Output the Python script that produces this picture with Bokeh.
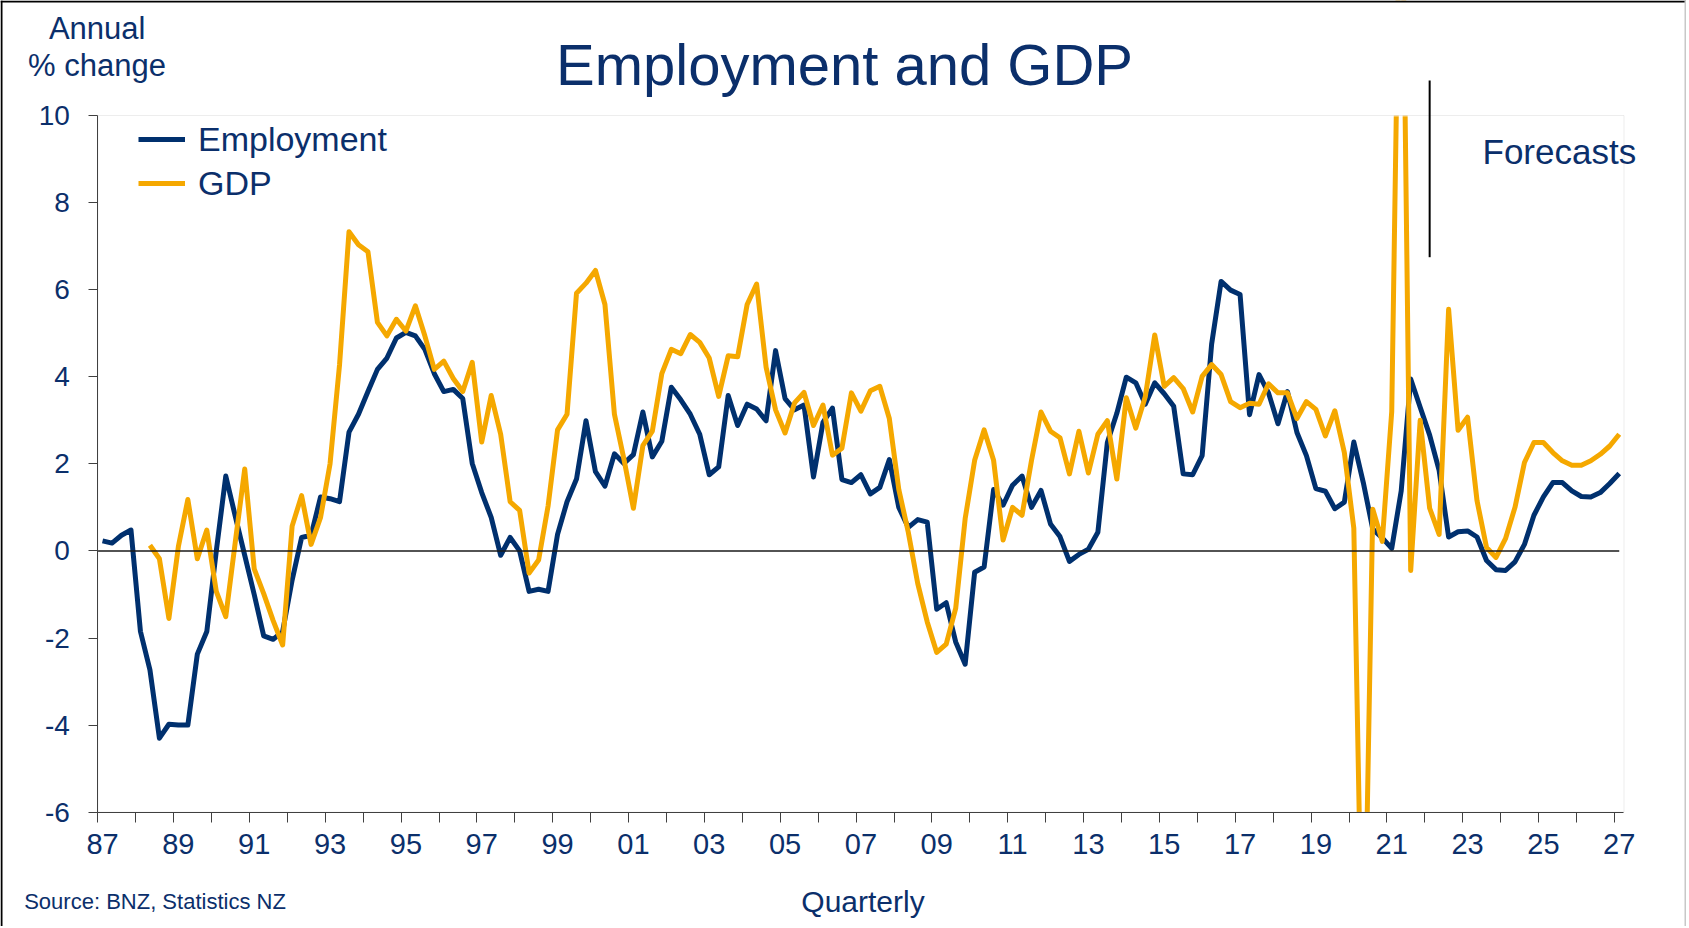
import math
from bokeh.plotting import figure
from bokeh.models import (Range1d, FixedTicker, Label, Legend, LegendItem, BoxAnnotation, Span)
from bokeh.embed import file_html
from bokeh.resources import INLINE

# ---------------- data ----------------
FIRST_YEAR = 1987
N_QUARTERS = 161  # 1987Q1 .. 2027Q1
quarters = [f"{FIRST_YEAR + i // 4}Q{i % 4 + 1}" for i in range(N_QUARTERS)]

employment = [
    0.23, 0.18, 0.36, 0.48, -1.85, -2.73, -4.30, -3.98, -4.00, -4.00,
    -2.37, -1.85, 0.00, 1.72, 0.80, -0.10, -1.00, -1.95, -2.03, -1.85,
    -0.67, 0.31, 0.36, 1.24, 1.20, 1.13, 2.73, 3.14, 3.66, 4.17,
    4.43, 4.89, 5.02, 4.94, 4.63, 4.07, 3.66, 3.71, 3.50, 2.01,
    1.34, 0.77, -0.10, 0.31, 0.00, -0.93, -0.88, -0.93, 0.38, 1.13,
    1.65, 2.99, 1.82, 1.49, 2.23, 2.01, 2.21, 3.19, 2.16, 2.52,
    3.76, 3.47, 3.14, 2.68, 1.75, 1.93, 3.57, 2.88, 3.37, 3.26,
    2.99, 4.60, 3.50, 3.24, 3.35, 1.70, 2.95, 3.28, 1.64, 1.57,
    1.75, 1.31, 1.46, 2.10, 1.00, 0.54, 0.72, 0.66, -1.34, -1.19,
    -2.09, -2.60, -0.49, -0.37, 1.41, 1.05, 1.51, 1.72, 1.00, 1.39,
    0.62, 0.33, -0.24, -0.08, 0.04, 0.43, 2.49, 3.16, 3.99, 3.86,
    3.37, 3.86, 3.61, 3.32, 1.77, 1.75, 2.19, 4.75, 6.19, 5.99,
    5.89, 3.13, 4.05, 3.63, 2.92, 3.66, 2.72, 2.19, 1.43, 1.37,
    0.97, 1.12, 2.50, 1.57, 0.50, 0.30, 0.06, 1.38, 3.95, 3.30,
    2.66, 1.85, 0.32, 0.44, 0.46, 0.32, -0.22, -0.43, -0.45, -0.25,
    0.15, 0.82, 1.24, 1.57, 1.57, 1.38, 1.25, 1.24, 1.34, 1.55,
    1.78,
]

gdp = [
    math.nan, math.nan, math.nan, math.nan, math.nan, 0.13, -0.18, -1.55, 0.10, 1.18,
    -0.18, 0.48, -0.93, -1.51, 0.20, 1.88, -0.41, -0.98, -1.60, -2.16,
    0.57, 1.27, 0.15, 0.77, 2.00, 4.27, 7.33, 7.03, 6.87, 5.25,
    4.94, 5.32, 5.05, 5.63, 4.94, 4.17, 4.36, 3.96, 3.66, 4.33,
    2.50, 3.57, 2.68, 1.13, 0.93, -0.51, -0.21, 1.03, 2.78, 3.14,
    5.92, 6.15, 6.44, 5.66, 3.14, 2.11, 0.98, 2.42, 2.75, 4.07,
    4.63, 4.53, 4.97, 4.79, 4.43, 3.55, 4.48, 4.46, 5.66, 6.13,
    4.22, 3.24, 2.71, 3.40, 3.64, 2.88, 3.35, 2.20, 2.36, 3.63,
    3.21, 3.68, 3.78, 3.04, 1.41, 0.43, -0.75, -1.63, -2.33, -2.14,
    -1.32, 0.74, 2.08, 2.78, 2.08, 0.25, 1.00, 0.82, 2.08, 3.19,
    2.75, 2.60, 1.77, 2.75, 1.79, 2.68, 2.99, 1.65, 3.52, 2.82,
    3.54, 4.96, 3.78, 3.98, 3.73, 3.19, 4.01, 4.28, 4.05, 3.43,
    3.29, 3.39, 3.37, 3.84, 3.63, 3.63, 3.04, 3.43, 3.25, 2.64,
    3.22, 2.26, 0.52, -11.00, 0.96, 0.22, 3.20, 17.40, -0.45, 3.00,
    0.98, 0.38, 5.55, 2.77, 3.07, 1.15, 0.08, -0.15, 0.28, 1.00,
    2.03, 2.49, 2.49, 2.26, 2.07, 1.97, 1.97, 2.07, 2.22, 2.41,
    2.68,
]

x_tick_labels = ["87", "89", "91", "93", "95", "97", "99", "01", "03", "05",
                 "07", "09", "11", "13", "15", "17", "19", "21", "23", "25", "27"]
y_ticks = [-6, -4, -2, 0, 2, 4, 6, 8, 10]
y_tick_labels = ["-6", "-4", "-2", "0", "2", "4", "6", "8", "10"]
forecast_start = "2022Q1"

# ---------------- helpers ----------------
def qpos(label):
    year, q = int(label[:4]), int(label[5])
    return year + (q - 0.5) / 4.0

xs = [qpos(q) for q in quarters]

NAVY = "#00306E"
NAVY_TXT = "#0B2F6B"
ORANGE = "#F5A800"
AXIS = "#404040"
FONT = "Liberation Sans"

W, H = 1686, 926
# pixel geometry of the plot area (canvas coordinates)
X_AXIS_PX = 97.3                     # x position of the start of 1987
PX_PER_YEAR = (1614.0 - 97.3) / 40.0
Y10_PX = 115.0                       # y position of value 10
PX_PER_UNIT = (811.7 - 115.0) / 16.0

X_LO = 1987.0
AXIS_X_END = 2027.25
Y_LO, Y_HI = -6.0, 10.0

x_start = X_LO - X_AXIS_PX / PX_PER_YEAR
x_end = x_start + W / PX_PER_YEAR
y_top = Y_HI + Y10_PX / PX_PER_UNIT
y_bottom = y_top - H / PX_PER_UNIT


def sx(px):
    return x_start + px / PX_PER_YEAR


def sy(py):
    return y_top - py / PX_PER_UNIT


p = figure(width=W, height=H, x_range=Range1d(x_start, x_end), y_range=Range1d(y_bottom, y_top),
           output_backend="svg", toolbar_location=None,
           min_border_left=0, min_border_right=0, min_border_top=0, min_border_bottom=0,
           background_fill_color="white", border_fill_color="white",
           outline_line_color=None)
p.xgrid.visible = False
p.ygrid.visible = False

# x axis: tick marks at every year (minor), labels at Q1 of odd years (major, no mark)
label_ticks = [int(("19" if int(t) >= 50 else "20") + t) + 0.125 for t in x_tick_labels]
year_ticks = list(range(int(X_LO), int(AXIS_X_END) + 1))
xa = p.xaxis[0]
xa.fixed_location = Y_LO
xa.ticker = FixedTicker(ticks=label_ticks, minor_ticks=year_ticks)
xa.major_label_overrides = {t: l for t, l in zip(label_ticks, x_tick_labels)}
xa.bounds = (X_LO, AXIS_X_END)
xa.major_tick_out = 0
xa.major_tick_in = 0
xa.minor_tick_out = 10
xa.minor_tick_in = 0
xa.minor_tick_line_color = AXIS
xa.axis_line_color = AXIS
xa.major_label_standoff = 12
xa.major_label_text_font = FONT
xa.major_label_text_font_size = "29px"
xa.major_label_text_color = NAVY_TXT

ya = p.yaxis[0]
ya.fixed_location = X_LO
ya.ticker = FixedTicker(ticks=y_ticks)
ya.major_label_overrides = {t: l for t, l in zip(y_ticks, y_tick_labels)}
ya.bounds = (Y_LO, Y_HI)
ya.major_tick_out = 9
ya.major_tick_in = 0
ya.minor_tick_out = 0
ya.minor_tick_in = 0
ya.major_tick_line_color = AXIS
ya.axis_line_color = AXIS
ya.major_label_standoff = 19
ya.major_label_text_font = FONT
ya.major_label_text_font_size = "28px"
ya.major_label_text_color = NAVY_TXT

# series (underlay level so the plot-area masks can sit above them)
r_emp = p.line(xs, employment, line_color=NAVY, line_width=5, line_join="round", level="underlay")
r_gdp = p.line(xs, gdp, line_color=ORANGE, line_width=5, line_join="round", level="underlay")

# zero line
p.line([X_LO, xs[-1]], [0, 0], line_color="#1a1a1a", line_width=1.5, level="underlay")

# masks outside the plot area (clip the series at 10 and -6), then plot-area border
pad_x = (x_end - x_start)
pad_y = (y_top - y_bottom)
p.add_layout(BoxAnnotation(left=x_start - pad_x, right=x_end + pad_x, bottom=Y_HI, top=y_top + pad_y,
                           fill_color="white", fill_alpha=1.0, line_color="white", line_width=3,
                           level="glyph"))
p.add_layout(BoxAnnotation(left=x_start - pad_x, right=x_end + pad_x, bottom=y_bottom - pad_y, top=Y_LO,
                           fill_color="white", fill_alpha=1.0, line_color=None, level="glyph"))
p.add_layout(BoxAnnotation(left=X_LO, right=AXIS_X_END, bottom=Y_LO, top=Y_HI,
                           fill_alpha=0.0, line_color="#c4c4c4", line_width=1, level="glyph"))

# forecast divider
fx = qpos(forecast_start)
p.line([fx, fx], [sy(256.7), sy(80)], line_color="black", line_width=2, level="overlay")

# outer picture frame (black top/left, light grey right)
p.add_layout(Span(location=sx(1.0), dimension="height", line_color="black", line_width=2))
p.add_layout(Span(location=sy(1.0), dimension="width", line_color="black", line_width=2))
p.add_layout(Span(location=sx(W - 1.0), dimension="height", line_color="#c8c8c8", line_width=2))

# legend
legend = Legend(items=[LegendItem(label="Employment", renderers=[r_emp]),
                       LegendItem(label="GDP", renderers=[r_gdp])],
                location=(138, H - 205.0), orientation="vertical",
                glyph_width=47, glyph_height=44, label_height=44,
                label_standoff=13, padding=0, margin=0, spacing=0,
                border_line_color=None, background_fill_alpha=0.0,
                label_text_font=FONT, label_text_font_size="34px",
                label_text_color=NAVY_TXT)
p.add_layout(legend)

BASELINE_FIX = 0.36  # empirical shift of Bokeh's alphabetic baseline, in em


def add_label(text, px, py, size, align="left"):
    py_fixed = py - BASELINE_FIX * size
    p.add_layout(Label(x=sx(px), y=sy(py_fixed), text=text, text_align=align,
                       text_baseline="alphabetic", text_font=FONT,
                       text_font_size=f"{size}px", text_color=NAVY_TXT))


add_label("Employment and GDP", 844, 85, 58, "center")
add_label("Annual", 96.7, 39.3, 31, "center")
add_label("% change", 96.5, 76, 31, "center")
add_label("Forecasts", 1482, 164, 35)
add_label("Quarterly", 862.5, 911.7, 30, "center")
add_label("Source: BNZ, Statistics NZ", 23.7, 909.3, 22)

open("out.html", "w").write(file_html(p, INLINE))
